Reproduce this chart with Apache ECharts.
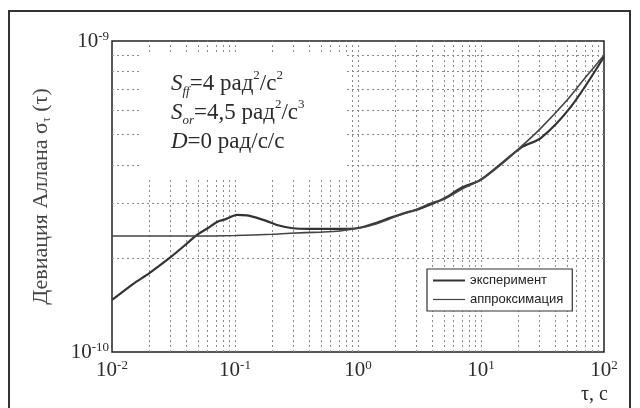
<!DOCTYPE html>
<html>
<head>
<meta charset="utf-8">
<script src="https://cdn.jsdelivr.net/npm/echarts@6/dist/echarts.min.js"></script>
<style>
  html, body { margin: 0; padding: 0; background: #fff; }
  #chart { width: 640px; height: 408px; }
</style>
</head>
<body>
<div id="chart"></div>
<script>
// Allan deviation: measured curve
const expTau = [0.01, 0.015, 0.02, 0.0296, 0.04, 0.0491, 0.06, 0.0714, 0.085, 0.104, 0.125, 0.151, 0.18, 0.219, 0.296, 0.4, 0.519, 0.7, 0.98, 1.4, 1.82, 2.4, 2.96, 3.8, 4.73, 5.5, 6.88, 9.8, 14.8, 21.5, 30.8, 53.7, 100];
const expSigma = [1.47e-10, 1.66e-10, 1.79e-10, 2.01e-10, 2.22e-10, 2.38e-10, 2.50e-10, 2.62e-10, 2.68e-10, 2.76e-10, 2.75e-10, 2.70e-10, 2.64e-10, 2.56e-10, 2.50e-10, 2.49e-10, 2.49e-10, 2.49e-10, 2.50e-10, 2.60e-10, 2.70e-10, 2.80e-10, 2.86e-10, 2.97e-10, 3.08e-10, 3.18e-10, 3.37e-10, 3.57e-10, 4.05e-10, 4.56e-10, 4.88e-10, 6.14e-10, 8.9e-10];

// Allan deviation: model approximation
const appTau = [0.01, 0.05, 0.1, 0.2, 0.28, 0.5, 0.71, 1.0, 1.4, 2.0, 3.0, 4.0, 5.0, 7.0, 10, 15, 20, 30, 50, 70, 100];
const appSigma = [2.36e-10, 2.36e-10, 2.37e-10, 2.39e-10, 2.41e-10, 2.43e-10, 2.45e-10, 2.50e-10, 2.58e-10, 2.72e-10, 2.88e-10, 3.02e-10, 3.10e-10, 3.34e-10, 3.58e-10, 4.05e-10, 4.48e-10, 5.2e-10, 6.45e-10, 7.6e-10, 9.0e-10];

const seriesNames = ['эксперимент', 'аппроксимация'];

// Decade tick exponents
const xTickExp = [-2, -1, 0, 1, 2];
const yTickExp = [-10, -9];

// Log grid positions (decades and their sub-divisions)
const xGridValues = [0.02, 0.03, 0.04, 0.05, 0.06, 0.07, 0.08, 0.09, 0.1, 0.2, 0.3, 0.4, 0.5, 0.6, 0.7, 0.8, 0.9, 1, 2, 3, 4, 5, 6, 7, 8, 9, 10, 20, 30, 40, 50, 60, 70, 80, 90];
const yGridValues = [2e-10, 3e-10, 4e-10, 5e-10, 6e-10, 7e-10, 8e-10, 9e-10];

const xMin = 0.01, xMax = 100, yMin = 1e-10, yMax = 1e-9;

const serif = 'Liberation Serif';
const ink = '#2b2b2b';

function pairs(xs, ys) { return xs.map((x, i) => [x, ys[i]]); }

function powLabel(exps) {
  return function (v) {
    const e = Math.round(Math.log10(v));
    if (exps.indexOf(e) < 0) return '';
    return '{b|10}{s|' + e + '}';
  };
}
const powRich = {
  b: { fontSize: 21, fontFamily: serif, color: ink, lineHeight: 22 },
  s: { fontSize: 13, fontFamily: serif, color: ink, verticalAlign: 'top', lineHeight: 11 }
};

const gridLines = xGridValues.map(v => [{ coord: [v, yMin] }, { coord: [v, yMax] }])
  .concat(yGridValues.map(v => [{ coord: [xMin, v] }, { coord: [xMax, v] }]));

const chart = echarts.init(document.getElementById('chart'), null, { renderer: 'canvas' });

chart.setOption({
  backgroundColor: '#fff',
  animation: false,
  grid: {
    left: 112, right: 36, top: 41, bottom: 56,
    show: true, borderColor: '#222', borderWidth: 1.5, backgroundColor: 'transparent'
  },
  xAxis: {
    type: 'log', logBase: 10, min: xMin, max: xMax,
    axisLine: { show: false },
    axisTick: { show: false },
    splitLine: { show: false },
    axisLabel: { margin: 7, formatter: powLabel(xTickExp), rich: powRich, showMinLabel: true, showMaxLabel: true }
  },
  yAxis: {
    type: 'log', logBase: 10, min: yMin, max: yMax,
    axisLine: { show: false },
    axisTick: { show: false },
    splitLine: { show: false },
    axisLabel: { margin: 3, formatter: powLabel(yTickExp), rich: powRich, showMinLabel: true, showMaxLabel: true },
    name: '{t|Девиация Аллана σ}{sub|τ}{t| (τ)}',
    nameLocation: 'middle',
    nameRotate: 90,
    nameGap: 59,
    nameTextStyle: {
      rich: {
        t: { fontSize: 22, fontFamily: serif, color: '#444', lineHeight: 24 },
        sub: { fontSize: 12, fontFamily: serif, color: '#444', verticalAlign: 'bottom', lineHeight: 12 }
      }
    }
  },
  legend: {
    data: [
      { name: seriesNames[0], icon: 'path://M0,0M0,4M0,1H32V3H0Z' },
      { name: seriesNames[1], icon: 'path://M0,0M0,4M0,1.4H32V2.6H0Z' }
    ],
    orient: 'vertical',
    left: 427, top: 269,
    padding: [5, 9, 5, 6],
    itemGap: 6,
    itemWidth: 32, itemHeight: 4,
    backgroundColor: '#fff',
    borderColor: '#333', borderWidth: 1.2,
    textStyle: { fontSize: 13, fontFamily: 'Liberation Sans', color: '#222', lineHeight: 13 }
  },
  graphic: [
    { type: 'rect', z: 2, silent: true,
      shape: { x: 141, y: 53, width: 206, height: 125 },
      style: { fill: '#fff' } },
    { type: 'rect', z: 20, silent: true,
      shape: { x: 9, y: 11, width: 621, height: 420 },
      style: { fill: 'none', stroke: '#333', lineWidth: 2 } },
    { type: 'text', z: 20, left: 171, top: 69,
      style: {
        text: '{i|S}{sub|ff}{n|=4 рад}{sup|2}{n|/с}{sup|2}\n' +
              '{i|S}{sub|or}{n|=4,5 рад}{sup|2}{n|/с}{sup|3}\n' +
              '{i|D}{n|=0 рад/с/с}',
        fill: ink,
        rich: {
          n: { fontSize: 23, fontFamily: serif, fill: ink, lineHeight: 29 },
          i: { fontSize: 23, fontFamily: serif, fontStyle: 'italic', fill: ink, lineHeight: 29 },
          sub: { fontSize: 13, fontFamily: serif, fontStyle: 'italic', fill: ink, verticalAlign: 'bottom', lineHeight: 12 },
          sup: { fontSize: 13, fontFamily: serif, fill: ink, verticalAlign: 'top', lineHeight: 18 }
        }
      } },
    { type: 'text', z: 20, left: 581, top: 385,
      style: { text: 'τ, с', fontSize: 20, fontFamily: serif, fill: ink } }
  ],
  series: [
    {
      name: 'grid',
      type: 'line',
      data: [],
      silent: true,
      markLine: {
        z: 1,
        silent: true,
        symbol: ['none', 'none'],
        label: { show: false },
        lineStyle: { color: '#8a8a8a', width: 1, type: [2, 3] },
        emphasis: { disabled: true },
        data: gridLines
      }
    },
    {
      name: seriesNames[0],
      type: 'line',
      z: 10,
      data: pairs(expTau, expSigma),
      smooth: 0.3,
      symbol: 'none',
      lineStyle: { color: '#333', width: 2.2 },
      itemStyle: { color: '#333' }
    },
    {
      name: seriesNames[1],
      type: 'line',
      z: 10,
      data: pairs(appTau, appSigma),
      smooth: 0.3,
      symbol: 'none',
      lineStyle: { color: '#444', width: 1.6 },
      itemStyle: { color: '#444' }
    }
  ]
});
</script>
</body>
</html>
